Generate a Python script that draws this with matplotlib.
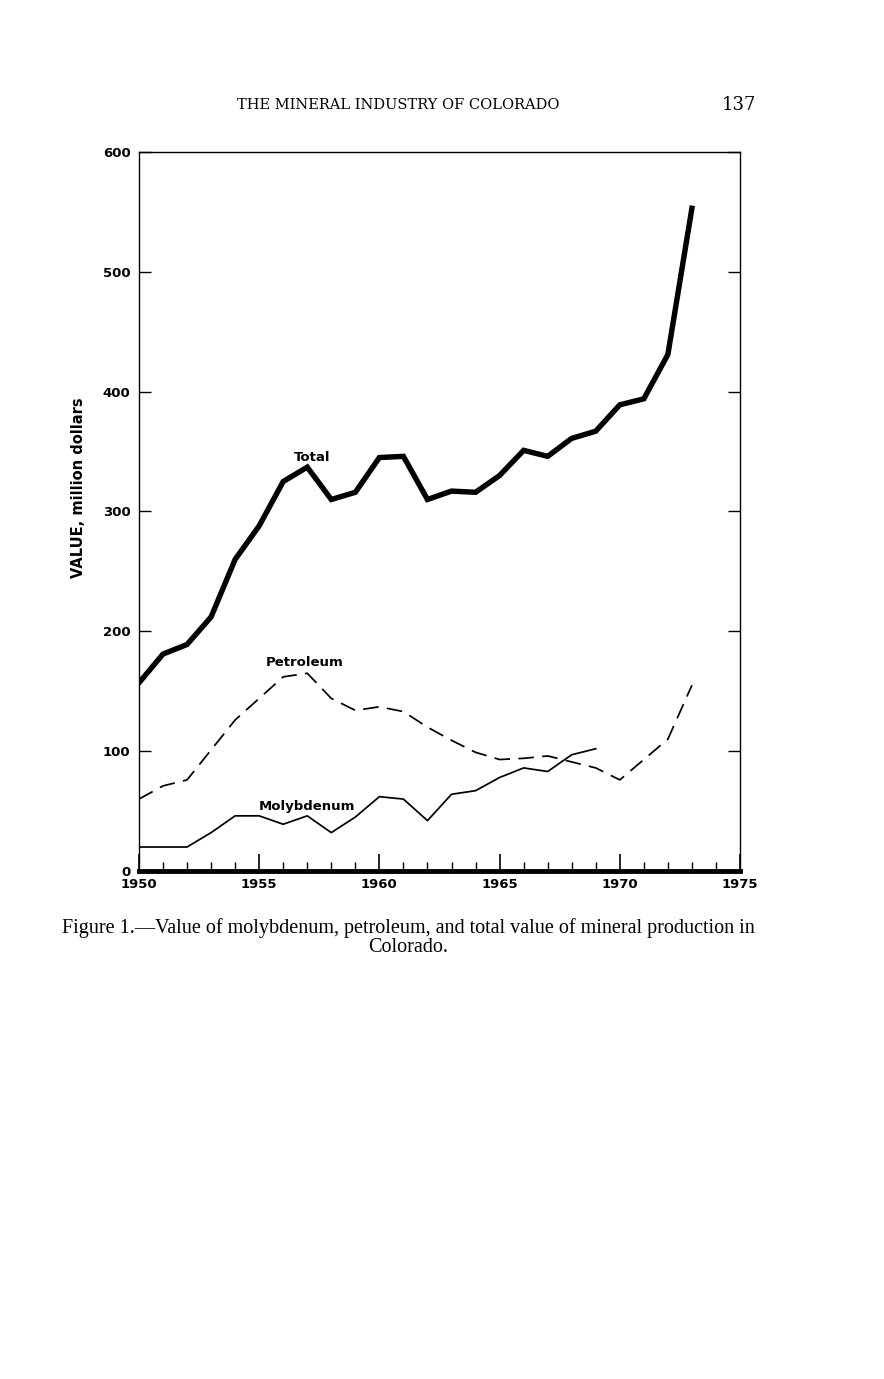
import matplotlib.pyplot as plt
from matplotlib.ticker import MultipleLocator

years_total = list(range(1950, 1974))
total = [157, 181, 189, 212, 260, 288, 325, 337, 310, 316, 345, 346,
         310, 317, 316, 330, 351, 346, 361, 367, 389, 394, 431, 553]

years_petro = list(range(1950, 1974))
petroleum = [60, 71, 76, 101, 126, 144, 162, 165, 144, 134, 137, 133,
             120, 109, 99, 93, 94, 96, 91, 86, 76, 93, 110, 155]

years_moly = list(range(1950, 1970))
molybdenum = [20, 20, 20, 32, 46, 46, 39, 46, 32, 45, 62, 60,
              42, 64, 67, 78, 86, 83, 97, 102]

xticks = [1950, 1955, 1960, 1965, 1970, 1975]
yticks = [0, 100, 200, 300, 400, 500, 600]

lab = dict(family='DejaVu Sans', weight='bold', fontsize=9.5)

fig = plt.figure(figsize=(8.84, 13.79), dpi=100)
ax = fig.add_axes([0.1572, 0.3684, 0.6799, 0.5214])

ax.plot(years_total, total, color='black', lw=3.9, solid_joinstyle='miter')
ax.plot(years_petro, petroleum, color='black', lw=1.25, dashes=(9, 4.8))
ax.plot(years_moly, molybdenum, color='black', lw=1.25)

ax.text(1957.2, 345, 'Total', ha='center', va='center', **lab)
ax.text(1956.9, 174, 'Petroleum', ha='center', va='center', **lab)
ax.text(1957.0, 54, 'Molybdenum', ha='center', va='center', **lab)

ax.set_xlim(1950, 1975)
ax.set_ylim(0, 600)
ax.set_xticks(xticks)
ax.set_xticklabels([str(x) for x in xticks], **lab)
ax.xaxis.set_minor_locator(MultipleLocator(1))
ax.set_yticks(yticks)
ax.set_yticklabels([str(y) for y in yticks], **lab)

ax.tick_params(axis='x', which='major', direction='in', length=12, width=1.2,
               top=False, pad=5)
ax.tick_params(axis='x', which='minor', direction='in', length=6.5, width=1.0,
               top=False)
ax.tick_params(axis='y', which='major', direction='in', length=8.6, width=1.0,
               left=True, right=True, pad=6)

for s in ['top', 'left', 'right']:
    ax.spines[s].set_linewidth(1.0)
ax.spines['bottom'].set_linewidth(3.5)

ax.set_ylabel('VALUE, million dollars',
              family='DejaVu Sans', weight='bold', fontsize=10.5)
ax.yaxis.set_label_coords(-0.088, 0.533)

fig.text(0.45, 0.924, 'THE MINERAL INDUSTRY OF COLORADO', ha='center',
         va='center', family='DejaVu Serif', fontsize=10.5)
fig.text(0.836, 0.924, '137', ha='center', va='center',
         family='DejaVu Serif', fontsize=13)
fig.text(0.462, 0.327,
         'Figure 1.\u2014Value of molybdenum, petroleum, and total value of mineral production in',
         ha='center', va='center', family='Liberation Serif', fontsize=14.5)
fig.text(0.462, 0.313, 'Colorado.', ha='center', va='center',
         family='Liberation Serif', fontsize=14.5)

fig.savefig('out.png', dpi=100)
